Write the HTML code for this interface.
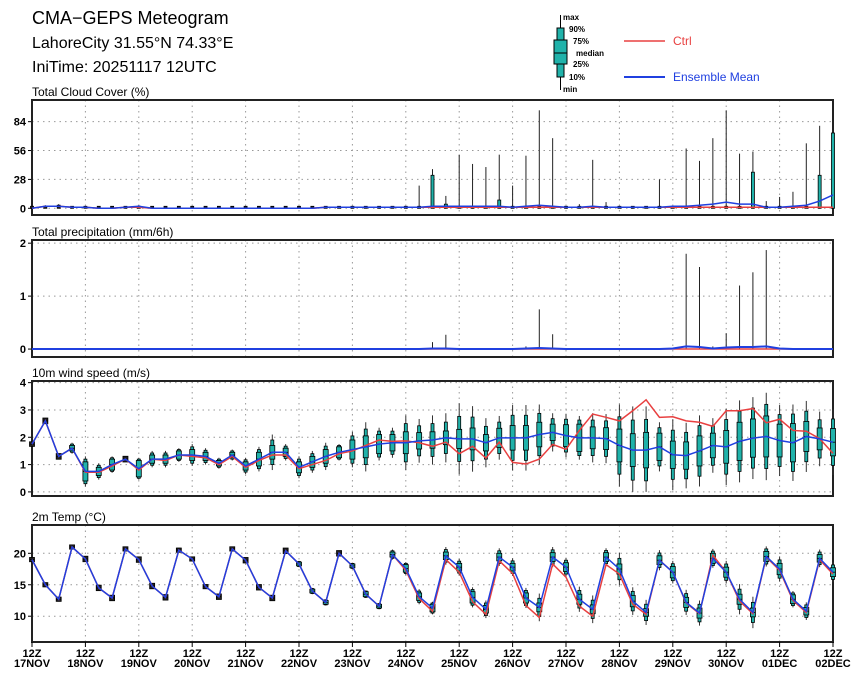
<!DOCTYPE html>
<html><head><meta charset="utf-8">
<style>
body{margin:0;background:#fff;}
svg{display:block;font-family:"Liberation Sans",sans-serif;}
.t{font-size:17px;fill:#000;}
.pt{font-size:12px;fill:#000;}
.tk{font-size:11px;font-weight:bold;fill:#000;}
.lg{font-size:8px;font-weight:bold;fill:#000;}
</style></head>
<body>
<svg id="c" width="860" height="679" viewBox="0 0 860 679">
<text class="t" x="32" y="24" style="font-size:18px">CMA−GEPS Meteogram</text>
<text class="t" x="32" y="48" style="font-size:16px">LahoreCity 31.55°N 74.33°E</text>
<text class="t" x="32" y="72" style="font-size:16px">IniTime: 20251117 12UTC</text>
<g>
<line x1="560.5" y1="15" x2="560.5" y2="90" stroke="#000"/>
<rect x="557" y="28" width="7" height="49" fill="#20b2aa" stroke="#000"/>
<rect x="554" y="40" width="13" height="24" fill="#20b2aa" stroke="#000"/>
<line x1="554" y1="53" x2="567" y2="53" stroke="#000"/>
<text class="lg" x="563" y="20">max</text><text class="lg" x="569" y="32">90%</text>
<text class="lg" x="573" y="44">75%</text><text class="lg" x="576" y="56">median</text>
<text class="lg" x="573" y="67">25%</text><text class="lg" x="569" y="80">10%</text>
<text class="lg" x="563" y="92">min</text>
<line x1="624" y1="41" x2="665" y2="41" stroke="#e84040" stroke-width="1.5"/>
<text x="673" y="45" style="font-size:12px;fill:#e84040">Ctrl</text>
<line x1="624" y1="77" x2="665" y2="77" stroke="#2040e0" stroke-width="2"/>
<text x="673" y="81" style="font-size:12px;fill:#2040e0">Ensemble Mean</text>
</g>
</svg>
<script>
// ---- data (61 steps, 6-hourly from 17NOV 12Z) ----
const dayLabels=["17NOV","18NOV","19NOV","20NOV","21NOV","22NOV","23NOV","24NOV","25NOV","26NOV","27NOV","28NOV","29NOV","30NOV","01DEC","02DEC"];
const cloudTicks=[0,28,56,84];
const precipTicks=[0,1,2];
const windTicks=[0,1,2,3,4];
const tempTicks=[10,15,20];
const cloudMean=[0,2,2,1,1,0,0,1,2,0,0,0,0,0,0,0,0,0,0,0,0,0,1,1,1,1,1,1,1,1,2,2,2,2,2,2,1,2,3,2,1,1,2,1,1,1,1,1,2,2,3,4,6,4,4,1,1,2,3,7,13];
const cloudCtrl=[0,2,2,1,1,0,0,1,1,0,0,0,0,0,0,0,0,0,0,0,0,0,1,1,1,1,1,1,1,1,1,1,1,1,1,1,1,1,1,1,1,1,1,1,1,1,1,1,1,1,1,1,1,1,1,1,1,1,1,1,1];
const cloudP75=[0,2,3,1,1,0,0,1,2,0,0,0,0,0,0,0,0,0,0,0,0,0,1,1,1,1,1,1,1,1,32,4,1,1,1,8,1,1,1,1,1,1,1,1,1,1,1,1,1,1,1,1,1,1,35,1,1,1,1,32,73];
const cloudMax=[0,3,4,1,1,0,0,1,3,0,0,0,0,0,0,0,0,0,0,0,0,0,1,1,1,1,1,1,2,22,38,12,52,43,40,52,22,51,95,68,2,4,47,6,2,2,2,28,2,58,46,68,95,53,55,7,11,16,63,80,73];
const precipMean=[0,0,0,0,0,0,0,0,0,0,0,0,0,0,0,0,0,0,0,0,0,0,0,0,0,0,0,0,0,0,0.01,0.01,0,0,0,0,0,0.01,0.02,0.01,0,0,0,0,0,0,0,0,0.01,0.05,0.04,0.01,0.03,0.04,0.04,0.05,0.01,0,0,0,0];
const precipMax=[0,0,0,0,0,0,0,0,0,0,0,0,0,0,0,0,0,0,0,0,0,0,0,0,0,0,0,0,0,0,0.13,0.27,0,0,0,0,0,0.05,0.75,0.28,0,0,0,0,0,0,0,0,0.02,1.8,1.55,0.05,0.3,1.2,1.45,1.87,0,0,0,0,0];
const windMean=[1.75,2.6,1.3,1.6,0.75,0.75,1.0,1.2,0.85,1.2,1.2,1.35,1.35,1.3,1.05,1.35,0.95,1.2,1.45,1.45,0.9,1.1,1.3,1.45,1.55,1.65,1.75,1.8,1.8,1.87,1.9,1.98,1.94,1.94,1.8,1.98,1.98,1.98,2.1,2.18,2.06,1.98,1.98,1.95,1.7,1.53,1.53,1.65,1.36,1.33,1.5,1.7,1.65,1.85,1.97,2.03,1.88,1.8,2.03,1.94,1.82];
const windCtrl=[1.75,2.6,1.3,1.6,0.72,0.72,0.95,1.2,0.8,1.2,1.15,1.35,1.3,1.25,1.0,1.3,0.9,1.15,1.35,1.35,0.85,1.0,1.15,1.4,1.5,1.7,1.9,1.85,1.87,1.8,1.67,1.82,1.4,1.67,1.24,1.82,1.08,1.02,1.2,1.74,1.56,2.25,2.85,2.73,2.6,2.97,3.37,2.73,2.75,2.6,2.55,2.4,2.97,2.97,3.05,2.53,2.66,2.25,2.22,1.95,1.41];
const windIqr=[0.03,0.05,0.05,0.1,0.35,0.15,0.2,0.05,0.3,0.15,0.15,0.15,0.2,0.15,0.1,0.1,0.15,0.25,0.25,0.15,0.2,0.2,0.25,0.2,0.35,0.4,0.35,0.3,0.4,0.3,0.3,0.25,0.35,0.4,0.3,0.35,0.45,0.45,0.45,0.3,0.4,0.5,0.4,0.4,0.6,0.6,0.65,0.5,0.5,0.5,0.55,0.45,0.6,0.7,0.7,0.75,0.6,0.7,0.55,0.4,0.5];
const windWhisk=[0.05,0.1,0.1,0.2,0.55,0.3,0.3,0.1,0.4,0.3,0.3,0.25,0.4,0.3,0.2,0.2,0.3,0.45,0.65,0.3,0.4,0.4,0.5,0.3,0.65,0.9,0.6,0.55,1.0,0.8,0.9,0.9,1.3,1.2,0.9,0.8,1.2,1.2,1.1,0.7,0.8,0.8,0.9,0.9,1.5,1.6,1.6,0.9,1.3,1.2,1.3,1.0,1.4,1.5,1.5,1.6,1.3,1.4,1.3,1.0,1.2];
const tempMean=[19,15,12.7,21,19.1,14.5,12.9,20.7,19,14.8,13,20.5,19.1,14.7,13.1,20.7,18.9,14.6,12.9,20.4,18.3,14,12.2,20,18,13.5,11.6,19.8,17.6,13.1,11.3,19.6,17.8,13,11.1,19.4,17.8,12.9,11.4,19.4,17.8,12.7,11.1,19.4,17.5,12.4,10.6,18.9,17,12.2,10.5,19.2,17,12.7,10.6,19.5,17.5,12.7,10.8,19.2,17];
const tempCtrl=[19,15,12.7,21,19.1,14.5,12.9,20.7,19,14.8,13,20.5,19.1,14.7,13.1,20.7,18.9,14.6,12.9,20.4,18.3,14,12.2,20,18,13.5,11.6,19.8,17.3,12.8,10.8,19,17,12.3,10.3,18.8,16.8,11.7,9.8,18.3,16.2,11.6,10,18.2,16.7,11.9,10.3,18.9,17,12.1,10.4,19.7,17,12.4,10.4,19.4,17.3,12.5,10.6,19,16.7];
const tempIqr=[0.1,0.1,0.1,0.1,0.2,0.2,0.2,0.1,0.2,0.2,0.2,0.1,0.1,0.1,0.2,0.1,0.2,0.2,0.2,0.2,0.3,0.3,0.3,0.2,0.3,0.4,0.3,0.4,0.6,0.6,0.6,0.6,0.6,0.9,0.6,0.6,0.6,0.8,0.7,0.7,0.7,0.8,0.7,0.7,0.8,0.9,0.6,0.7,0.9,0.8,0.8,0.8,0.8,0.8,0.7,0.8,0.9,0.7,0.6,0.6,0.7];
const tempWhisk=[0.2,0.2,0.2,0.2,0.3,0.3,0.3,0.2,0.3,0.3,0.3,0.2,0.2,0.2,0.3,0.2,0.3,0.3,0.3,0.3,0.5,0.5,0.5,0.4,0.5,0.6,0.5,0.8,1.0,1.2,1.0,1.4,1.3,1.6,1.4,1.4,1.4,1.6,2.2,1.6,1.5,2.0,2.2,1.4,2.6,2.2,2.0,1.6,1.8,2.0,2.0,1.5,1.8,2.4,2.5,1.6,2.0,1.3,1.4,1.4,1.6];

const NS="http://www.w3.org/2000/svg";
const svg=document.getElementById('c');
function mk(tag,attrs,parent){const e=document.createElementNS(NS,tag);for(const k in attrs)e.setAttribute(k,attrs[k]);(parent||svg).appendChild(e);return e;}
const X0=32,X1=833,N=60;
const xs=i=>X0+(X1-X0)*i/N;

function panel(name,title,top,bot,vmin,vmax,ticks){
  const g=mk('g',{});
  
  
  const ys=v=>bot-(v-vmin)/(vmax-vmin)*(bot-top);
  const tt=mk('text',{class:'pt',x:X0,y:top-4},g);tt.textContent=title;
  
  
  for(let d=1;d<dayLabels.length-1;d++){
    const l=mk('line',{x1:xs(d*4),x2:xs(d*4),y1:top,y2:bot,stroke:'#999','stroke-dasharray':'1.5,4'},g);
    
    
  }
  ticks.forEach(t=>{
    const y=ys(t);
    const l=mk('line',{x1:X0,x2:X1,y1:y,y2:y,stroke:'#999','stroke-dasharray':'1.5,4'},g);
    
    
    mk('line',{x1:X0-4,x2:X0,y1:y,y2:y,stroke:'#000'},g);
    const tx=mk('text',{class:'tk',x:X0-6,y:y+4,'text-anchor':'end'},g);tx.textContent=t;
    
    
  });
  const fr=mk('rect',{x:X0,y:top,width:X1-X0,height:bot-top,fill:'none',stroke:'#222','stroke-width':2},g);
  
  
  return {g,ys};
}
function boxes(P,med,iqr,wh,name){
  med.forEach((m,i)=>{
    const x=xs(i);
    const hi=m+wh[i],lo=Math.max(0,m-wh[i]);
    const b=mk('g',{},P.g);
    
    
    mk('line',{x1:x,x2:x,y1:P.ys(hi),y2:P.ys(lo),stroke:'#333','stroke-width':1},b);
    const q9=m+(iqr[i]+wh[i])/2,q1=Math.max(0,m-(iqr[i]+wh[i])/2);
    let ya=P.ys(q9),yb=P.ys(q1);if(yb-ya<2){ya-=1;yb+=1;}
    mk('rect',{x:x-1.5,y:ya,width:3,height:yb-ya,fill:'#20b2aa',stroke:'#000','stroke-width':0.8},b);
    let y3=P.ys(m+iqr[i]),y2=P.ys(Math.max(0,m-iqr[i]));
    const small=(y2-y3<3);
    if(small){y3-=1.5;y2+=1.5;}
    mk('rect',{x:x-2.5,y:y3,width:5,height:y2-y3,fill:small?'#222':'#20b2aa',stroke:'#000','stroke-width':0.8},b);
    mk('line',{x1:x-2.5,x2:x+2.5,y1:P.ys(m),y2:P.ys(m),stroke:'#000','stroke-width':0.8},b);
  });
}
function line(P,arr,color,w,name){
  const p=mk('polyline',{points:arr.map((v,i)=>xs(i)+','+P.ys(v)).join(' '),fill:'none',stroke:color,'stroke-width':w},P.g);
  
  
}

// Cloud
const Pc=panel('cloud','Total Cloud Cover (%)',100,215,-6.5,105,cloudTicks);
cloudMax.forEach((mx,i)=>{
  const x=xs(i);
  const w=mk('line',{x1:x,x2:x,y1:Pc.ys(mx),y2:Pc.ys(0),stroke:'#222','stroke-width':1},Pc.g);
  
  
  const y3=Pc.ys(cloudP75[i]),y0=Pc.ys(0);
  const r=mk('rect',{x:x-1.5,y:Math.min(y3,y0-2),width:3,height:Math.max(2,y0-y3),fill:(y0-y3<4)?'#222':'#20b2aa',stroke:'#000','stroke-width':0.8},Pc.g);
  
  
});
line(Pc,cloudCtrl,'#e84040',1.5,'cloud-ctrl-line');
line(Pc,cloudMean,'#2040e0',1.5,'cloud-mean-line');

// Precip
const Pp=panel('precip','Total precipitation (mm/6h)',240,357,-0.15,2.06,precipTicks);
precipMax.forEach((mx,i)=>{
  if(mx<=0)return;
  const x=xs(i);
  const w=mk('line',{x1:x,x2:x,y1:Pp.ys(mx),y2:Pp.ys(0),stroke:'#222','stroke-width':1},Pp.g);
  
  
});
line(Pp,precipMean.map(v=>0),'#e84040',1.5,'precip-ctrl-line');
line(Pp,precipMean,'#2040e0',2,'precip-mean-line');

// Wind
const Pw=panel('wind','10m wind speed (m/s)',381,496,-0.15,4.06,windTicks);
boxes(Pw,windMean,windIqr,windWhisk,'wind');
line(Pw,windCtrl,'#e84040',1.5,'wind-ctrl-line');
line(Pw,windMean,'#2040e0',1.5,'wind-mean-line');

// Temp
const Pt=panel('temp','2m Temp (°C)',525,642,5.9,24.5,tempTicks);
boxes(Pt,tempMean,tempIqr,tempWhisk,'temp');
line(Pt,tempCtrl,'#e84040',1.5,'temp-ctrl-line');
line(Pt,tempMean,'#2040e0',1.5,'temp-mean-line');

// x axis labels
dayLabels.forEach((d,k)=>{
  const x=xs(k*4);
  mk('line',{x1:x,x2:x,y1:642,y2:647,stroke:'#000'});
  const a=mk('text',{class:'tk',x:x,y:657,'text-anchor':'middle'});a.textContent='12Z';
  
  
  const b=mk('text',{class:'tk',x:x,y:667,'text-anchor':'middle'});b.textContent=d;
  
  
});
</script>
</body></html>
